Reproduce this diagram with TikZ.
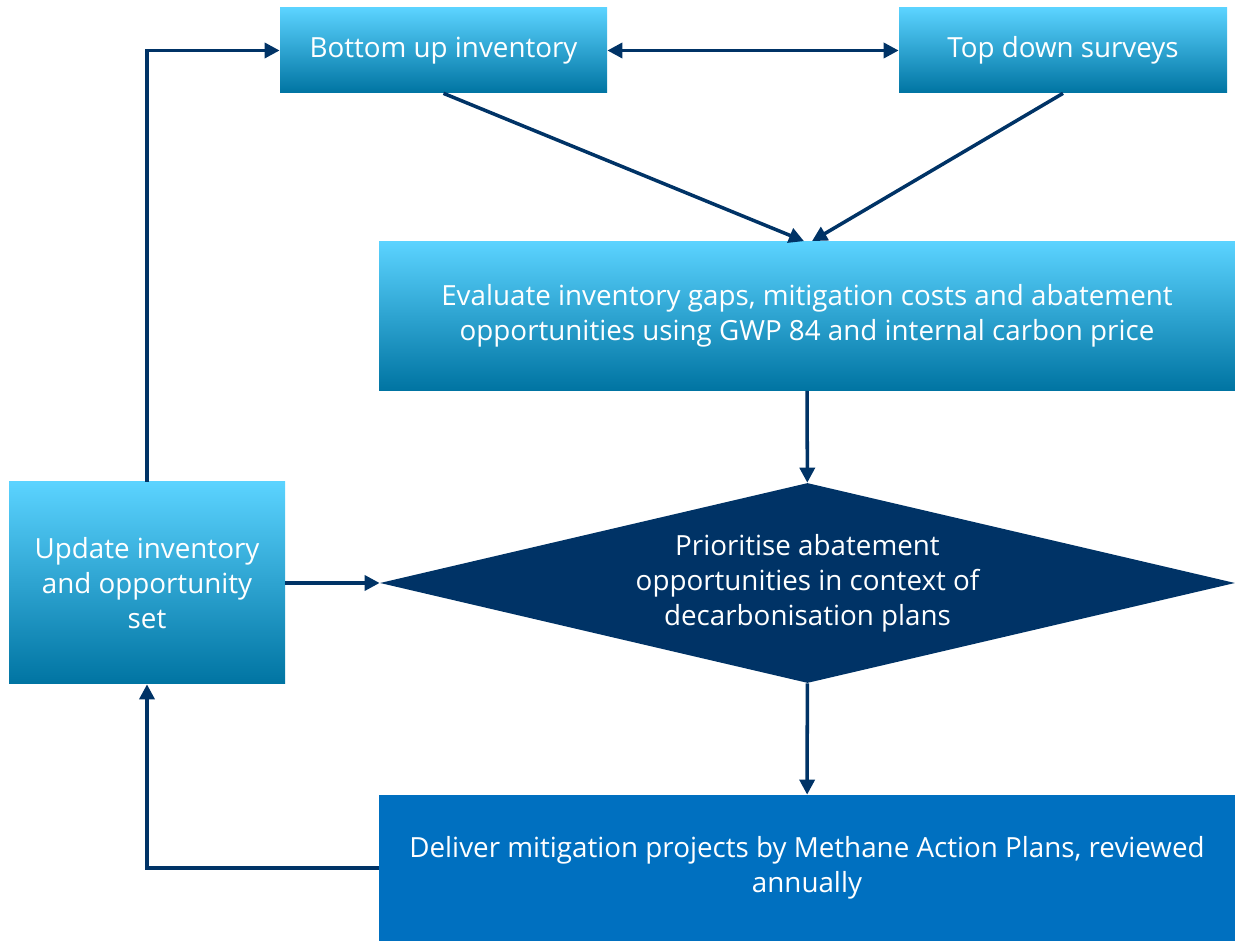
\documentclass[tikz,border=0pt]{standalone}
\usepackage{fontspec}
\setmainfont{Open Sans}
\usetikzlibrary{shapes.geometric,arrows.meta}

\definecolor{navy}{HTML}{003366}
\definecolor{skytop}{HTML}{5BD3FF}
\definecolor{skymid}{HTML}{00B4F2}
\definecolor{skybot}{HTML}{0074A2}
\definecolor{deliverblue}{HTML}{0070C0}

\tikzset{
    skybox/.style={rectangle, top color=skytop, middle color=skymid, bottom color=skybot,
        text=white, align=center, inner sep=0pt},
    flow/.style={draw=navy, line width=2pt, -{Triangle[length=0.3cm,width=0.3cm]}},
}

\begin{document}
\begin{tikzpicture}[font=\fontsize{15.8}{19.9}\selectfont]
    \useasboundingbox (0,0) rectangle (24.7,18.82);

    \node[skybox, minimum width=6.54cm, minimum height=1.70cm] (bu) at (8.87,17.81) {Bottom up inventory};
    \node[skybox, minimum width=6.56cm, minimum height=1.70cm] (td) at (21.26,17.81) {Top down surveys};
    \node[skybox, minimum width=17.12cm, minimum height=2.98cm] (ev) at (16.14,12.5)
        {Evaluate inventory gaps, mitigation costs and abatement\\opportunities using GWP 84 and internal carbon price};
    \node[shape=diamond, fill=navy, text=white, align=center, inner sep=0pt, aspect=4.275,
        minimum width=17.10cm, minimum height=4.00cm] (dia) at (16.15,7.16)
        {Prioritise abatement\\opportunities in context of\\decarbonisation plans};
    \node[skybox, minimum width=5.52cm, minimum height=4.04cm] (up) at (2.94,7.16)
        {Update inventory\\and opportunity\\set};
    \node[rectangle, fill=deliverblue, text=white, align=center, inner sep=0pt,
        minimum width=17.12cm, minimum height=2.92cm] (del) at (16.14,1.46)
        {Deliver mitigation projects by Methane Action Plans, reviewed\\annually};

    \draw[flow, {Triangle[length=0.3cm,width=0.3cm]}-{Triangle[length=0.3cm,width=0.3cm]}] (bu) -- (td);
    \draw[flow] (bu.south) -- ([xshift=-0.06cm]ev.north);
    \draw[flow] (td.south) -- ([xshift=0.1cm]ev.north);
    \draw[flow] (ev) -- (dia);
    \draw[flow] (dia) -- (del);
    \draw[flow] (up) -- (dia);

    \draw[flow] (del.west) -| (up.south);
    \draw[flow] (up.north) |- (bu.west);
\end{tikzpicture}
\end{document}
